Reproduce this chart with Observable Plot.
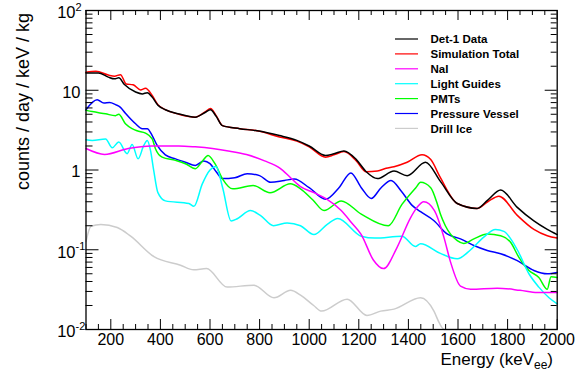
<!DOCTYPE html>
<html><head><meta charset="utf-8">
<script src="https://cdn.jsdelivr.net/npm/d3@7"></script>
<script src="https://cdn.jsdelivr.net/npm/@observablehq/plot@0.6"></script>
<style>
html,body{margin:0;padding:0;background:#fff;}
#chart{width:586px;height:376px;}
</style></head><body><div id="chart"></div>
<script>
// ---- data ----
const seriesNames = ["Det-1 Data","Simulation Total","NaI","Light Guides","PMTs","Pressure Vessel","Drill Ice"];
const seriesColors = ["#000000","#ff0000","#ff00ff","#00ffff","#00ff00","#0000ff","#cccccc"];

const dataE = [100,150,190,215,232,255,300,327,347,367,390,420,475,540,582,602,625,650,720,790,880,950,1000,1066,1100,1140,1190,1230,1275,1342,1395,1469,1529,1597,1677,1720,1772,1839,1906,1960,2000];
const dataV = [16.5,16.5,14.6,13.9,14.3,11.8,9.5,9.0,9.3,8.2,6.5,5.7,5.05,4.6,5.3,5.7,4.7,3.6,3.3,3.1,2.7,2.35,2.0,1.52,1.6,1.73,1.35,0.95,0.78,0.97,0.85,1.25,0.72,0.38,0.33,0.42,0.56,0.34,0.23,0.18,0.155];

const simE = [100,140,190,215,239,262,290,320,340,367,390,420,475,540,582,602,625,650,720,790,880,950,1000,1066,1100,1140,1190,1230,1275,1310,1342,1395,1455,1490,1529,1597,1677,1720,1765,1839,1906,1960,2000];
const simV = [16.8,17.3,15.5,15.0,15.7,12.0,11.7,10.1,10.6,8.6,6.6,5.7,5.0,4.6,5.4,5.9,4.8,3.6,3.3,3.1,2.6,2.3,1.95,1.45,1.55,1.7,1.3,0.95,0.97,1.05,1.1,1.25,1.55,1.35,0.8,0.38,0.33,0.40,0.47,0.27,0.18,0.15,0.14];

const naiE = [100,175,270,364,474,540,610,680,747,820,883,925,965,1019,1066,1129,1170,1210,1258,1300,1353,1408,1435,1462,1505,1543,1570,1610,1651,1758,1850,1920,2000];
const naiV = [1.86,1.57,1.86,2.0,2.0,1.95,1.86,1.72,1.56,1.3,1.05,0.8,0.62,0.52,0.44,0.31,0.22,0.155,0.075,0.058,0.105,0.25,0.34,0.40,0.31,0.144,0.07,0.035,0.032,0.033,0.031,0.029,0.029];

const lgE = [100,125,179,206,232,266,286,310,333,347,360,373,390,420,515,535,569,600,624,651,685,710,763,803,856,911,965,1019,1074,1115,1210,1265,1374,1428,1449,1529,1597,1651,1704,1751,1785,1839,1886,1926,1967,2000];
const lgV = [2.4,2.35,2.45,1.9,2.24,1.6,2.09,1.38,2.03,2.34,1.76,0.99,0.52,0.41,0.38,0.35,0.67,1.0,1.11,0.6,0.23,0.245,0.31,0.27,0.20,0.217,0.2,0.155,0.21,0.247,0.148,0.14,0.148,0.11,0.119,0.09,0.077,0.1,0.144,0.18,0.17,0.1,0.05,0.034,0.025,0.021];

const pmtE = [100,125,179,219,232,259,286,306,340,367,380,407,461,501,541,570,592,620,651,692,774,842,924,965,1015,1060,1129,1210,1319,1374,1430,1449,1490,1516,1529,1549,1597,1623,1664,1718,1772,1812,1845,1886,1926,1960,1975,2000];
const pmtV = [5.6,5.4,5.06,4.8,5.0,3.8,3.3,3.1,2.9,2.45,1.85,1.45,1.32,1.2,1.04,1.3,1.52,1.2,0.77,0.58,0.64,0.52,0.67,0.58,0.42,0.31,0.41,0.28,0.20,0.37,0.6,0.70,0.6,0.38,0.28,0.2,0.13,0.12,0.137,0.158,0.15,0.124,0.081,0.055,0.045,0.032,0.046,0.045];

const pvE = [100,145,172,195,219,239,259,300,327,347,367,387,420,461,501,541,575,600,625,650,700,750,800,845,900,940,1000,1066,1120,1168,1210,1250,1290,1330,1370,1415,1449,1502,1556,1610,1664,1718,1772,1839,1906,1960,2000];
const pvV = [5.7,7.6,6.9,7.0,6.6,6.1,5.15,3.8,3.3,3.3,2.7,2.03,1.55,1.38,1.25,1.14,1.3,1.2,0.95,0.78,0.8,0.9,0.85,0.7,0.74,0.77,0.6,0.43,0.6,0.92,0.6,0.44,0.6,0.74,0.55,0.36,0.3,0.233,0.158,0.137,0.113,0.098,0.089,0.073,0.055,0.05,0.052];

const iceE = [100,120,160,226,280,374,481,534,586,669,777,858,925,965,1018,1050,1153,1233,1288,1342,1449,1503,1525,1545,1600,2000];
const iceV = [0.127,0.197,0.207,0.19,0.148,0.082,0.064,0.056,0.058,0.034,0.036,0.025,0.031,0.027,0.02,0.017,0.024,0.015,0.017,0.018,0.025,0.017,0.012,0.008,0.005,0.005];

const xTickValues = [200,400,600,800,1000,1200,1400,1600,1800,2000];
const yTickValues = [0.01,0.1,1,10,100];
const yTickBase = ["10","10","1","10","10"];
const yTickExp  = ["-2","-1","","","2"];

// ---- build tables ----
const seriesE = [dataE, simE, naiE, lgE, pmtE, pvE, iceE];
const seriesV = [dataV, simV, naiV, lgV, pmtV, pvV, iceV];
const series = seriesNames.map((name, k) => ({
  name, color: seriesColors[k],
  rows: seriesE[k].map((e, i) => ({e, v: seriesV[k][i]}))
}));

const W = 586, H = 376, mL = 85.5, mR = 29.3, mT = 10, mB = 47;
const fw = W - mL - mR, fh = H - mT - mB;
const xMinor = d3.range(100, 2001, 50).filter(v => v % 200 !== 0);
const yMinor = [];
[0.01, 0.1, 1, 10].forEach(d => { for (let m = 2; m <= 9; m++) yMinor.push(d * m); });
const yTicks = yTickValues.map((v, i) => ({v, base: yTickBase[i], exp: yTickExp[i]}));

const font = "'Liberation Sans', Arial, Helvetica, sans-serif";
const drawOrder = [6, 5, 4, 3, 2, 1, 0];

const plot = Plot.plot({
  width: W, height: H,
  marginLeft: mL, marginRight: mR, marginTop: mT, marginBottom: mB,
  style: {fontFamily: font, background: "#fff", color: "#000"},
  x: {domain: [100, 2000], axis: null},
  y: {type: "log", domain: [0.01, 100], axis: null},
  marks: [
    ...drawOrder.map(k => Plot.line(series[k].rows, {
      x: "e", y: d => Math.max(d.v, 0.01),
      stroke: series[k].color, strokeWidth: 1.5, curve: "monotone-x"
    })),
    // inward ticks (ROOT style)
    Plot.tickX(xTickValues, {x: d => d, insetTop: fh - 10, stroke: "#000"}),
    Plot.tickX(xTickValues, {x: d => d, insetBottom: fh - 10, stroke: "#000"}),
    Plot.tickX(xMinor, {x: d => d, insetTop: fh - 5, stroke: "#000"}),
    Plot.tickX(xMinor, {x: d => d, insetBottom: fh - 5, stroke: "#000"}),
    Plot.tickY(yTickValues, {y: d => d, insetRight: fw - 13, stroke: "#000"}),
    Plot.tickY(yTickValues, {y: d => d, insetLeft: fw - 12, stroke: "#000"}),
    Plot.tickY(yMinor, {y: d => d, insetRight: fw - 7, stroke: "#000"}),
    Plot.tickY(yMinor, {y: d => d, insetLeft: fw - 6, stroke: "#000"}),
    Plot.frame({stroke: "#000", strokeWidth: 1.3}),
    // x tick labels
    Plot.text(xTickValues, {x: d => d, frameAnchor: "bottom", text: d => String(d),
      lineAnchor: "top", dy: 4.5, fontSize: 16, fill: "#000"}),
    // y tick labels
    Plot.text(yTicks.filter(d => d.exp === ""), {y: "v", frameAnchor: "left", text: "base",
      textAnchor: "end", dx: -5.5, dy: 2, fontSize: 16.5, fill: "#000"}),
    Plot.text(yTicks.filter(d => d.exp !== ""), {y: "v", frameAnchor: "left", text: "base",
      textAnchor: "end", dx: -10.5, dy: 2.5, fontSize: 16.5, fill: "#000"}),
    Plot.text(yTicks.filter(d => d.exp !== ""), {y: "v", frameAnchor: "left", text: "exp",
      textAnchor: "start", dx: -10.5, dy: -3.5, fontSize: 11, fill: "#000"})
  ]
});

const svg = d3.select(plot);
// axis titles
svg.append("text")
  .attr("transform", "translate(29,13) rotate(-90)")
  .attr("text-anchor", "end")
  .style("font-family", font).style("font-size", "18px").attr("fill", "#000")
  .text("counts / day / keV / kg");
const xt = svg.append("text")
  .attr("x", 553).attr("y", 365).attr("text-anchor", "end")
  .style("font-family", font).style("font-size", "17px").attr("fill", "#000");
xt.append("tspan").text("Energy (keV");
xt.append("tspan").attr("dy", 4).style("font-size", "12px").text("ee");
xt.append("tspan").attr("dy", -4).text(")");

// legend
const lg = svg.append("g").attr("text-anchor", "start");
seriesNames.forEach((name, k) => {
  const y = 39 + k * 14.9;
  lg.append("line").attr("x1", 395).attr("x2", 418).attr("y1", y).attr("y2", y)
    .attr("stroke", seriesColors[k]).attr("stroke-width", 1.2);
  lg.append("text").attr("x", 430.5).attr("y", y).attr("dy", "0.36em")
    .attr("text-anchor", "start")
    .style("font-family", font).style("font-size", "11.5px").style("font-weight", "bold")
    .attr("fill", "#000").text(name);
});

document.getElementById("chart").appendChild(plot);
</script>
</body></html>
